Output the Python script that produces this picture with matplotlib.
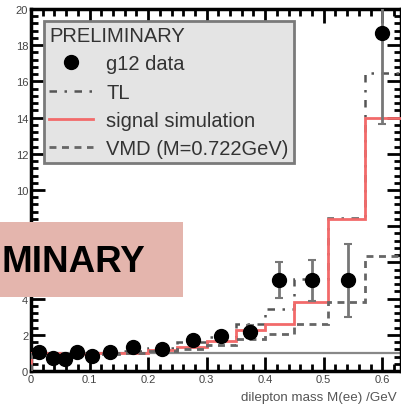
import numpy as np
import matplotlib.pyplot as plt
from matplotlib.patches import Rectangle
from matplotlib.lines import Line2D
from matplotlib.ticker import MultipleLocator

plt.rcParams['font.family'] = ['Liberation Sans', 'DejaVu Sans']

# g12 data points
mass = [0.014, 0.038, 0.058, 0.079, 0.105, 0.135, 0.175, 0.223, 0.276,
        0.325, 0.374, 0.424, 0.480, 0.542, 0.600]
counts = [1.05, 0.70, 0.66, 1.03, 0.81, 1.03, 1.34, 1.22, 1.71,
          1.92, 2.17, 5.01, 5.01, 5.01, 18.67]
errs = [0.1, 0.1, 0.1, 0.1, 0.1, 0.1, 0.15, 0.15, 0.2,
        0.3, 0.35, 1.0, 1.13, 2.0, 5.0]

# histogram bins for the simulations
edges = [0, 0.05, 0.1, 0.15, 0.2, 0.25, 0.3, 0.35, 0.4, 0.45, 0.508, 0.571, 0.64]
signal = [0.97, 0.93, 0.97, 1.02, 1.15, 1.32, 1.68, 2.25, 2.62, 3.79, 8.4, 14.0]
tl = [1.0, 0.95, 1.0, 1.1, 1.25, 1.6, 1.9, 2.62, 3.45, 5.08, 8.45, 16.45]
vmd = [0.95, 0.92, 0.95, 1.0, 1.1, 1.2, 1.42, 1.77, 2.02, 2.62, 3.79, 6.35]

fig = plt.figure(figsize=(4.01, 4.06), dpi=100)
ax = fig.add_axes([31/401, 34/406, 370/401, 362/406])

ax.axhline(1.0, color='#888888', lw=1.6, zorder=1)
ax.stairs(tl, edges, color='#555555', lw=1.8, linestyle=(0, (3, 3, 1, 3)), zorder=2)
ax.stairs(signal, edges, color='#f26a6a', lw=2.0, zorder=3)
ax.stairs(vmd, edges, color='#666666', lw=2.0, linestyle=(0, (2.5, 2)), zorder=3)
ax.errorbar(mass, counts, yerr=errs, fmt='o', color='black', ms=10,
            ecolor='#777777', elinewidth=2, capsize=3, capthick=1.5, zorder=5)

ax.set_xlim(0, 0.632)
ax.set_ylim(0, 20)
ax.xaxis.set_minor_locator(MultipleLocator(0.02))
ax.yaxis.set_minor_locator(MultipleLocator(0.4))
ax.set_xticks([0, 0.1, 0.2, 0.3, 0.4, 0.5, 0.6])
ax.set_xticklabels(['0', '0.1', '0.2', '0.3', '0.4', '0.5', '0.6'])
# the "6" label sits under the slide overlay
ax.set_yticks(range(0, 21, 2))
ax.set_yticklabels(['' if v == 6 else str(v) for v in range(0, 21, 2)])
ax.tick_params(which='both', direction='in', top=True, right=True,
               labelsize=8, labelcolor='#444444', width=2, pad=2)
ax.tick_params(which='major', length=10)
ax.tick_params(which='minor', length=5)
for s in ax.spines.values():
    s.set_linewidth(2.5)
fig.text(241/401, 8/406, 'dilepton mass M(ee) /GeV', fontsize=9.6,
         color='#555555', ha='left', va='center')

data_handle = Line2D([], [], marker='o', ms=10, color='black', ls='none')
tl_handle = Line2D([], [], color='#555555', lw=1.8, linestyle=(0, (3, 3, 1, 3)))
sig_handle = Line2D([], [], color='#f26a6a', lw=2.0)
vmd_handle = Line2D([], [], color='#666666', lw=2.0, linestyle=(0, (2.5, 2)))
leg = ax.legend([data_handle, tl_handle, sig_handle, vmd_handle],
                ['g12 data', 'TL', 'signal simulation', 'VMD (M=0.722GeV)'],
                title='PRELIMINARY', alignment='left', loc='upper left',
                bbox_to_anchor=(13/370, 350/362), borderaxespad=0,
                fontsize=14.5, title_fontsize=14.5,
                frameon=True, fancybox=False, facecolor='#e4e4e4', edgecolor='#7a7a7a',
                framealpha=1, handlelength=2.2, labelspacing=0.46, borderpad=0.25,
                handletextpad=0.65)
leg.get_frame().set_linewidth(2)
for t in leg.get_texts():
    t.set_color('#333333')
leg.get_title().set_color('#333333')

# slide overlay
fig.patches.append(Rectangle((0, 108/406), 183/401, 75/406, transform=fig.transFigure,
                             facecolor='#e4b5ad', edgecolor='none', zorder=10))
fig.text(2/401, 144/406, 'MINARY', fontsize=26.5, fontweight='bold', color='black',
         va='center', ha='left', zorder=11)

fig.savefig('out.png', dpi=100)
